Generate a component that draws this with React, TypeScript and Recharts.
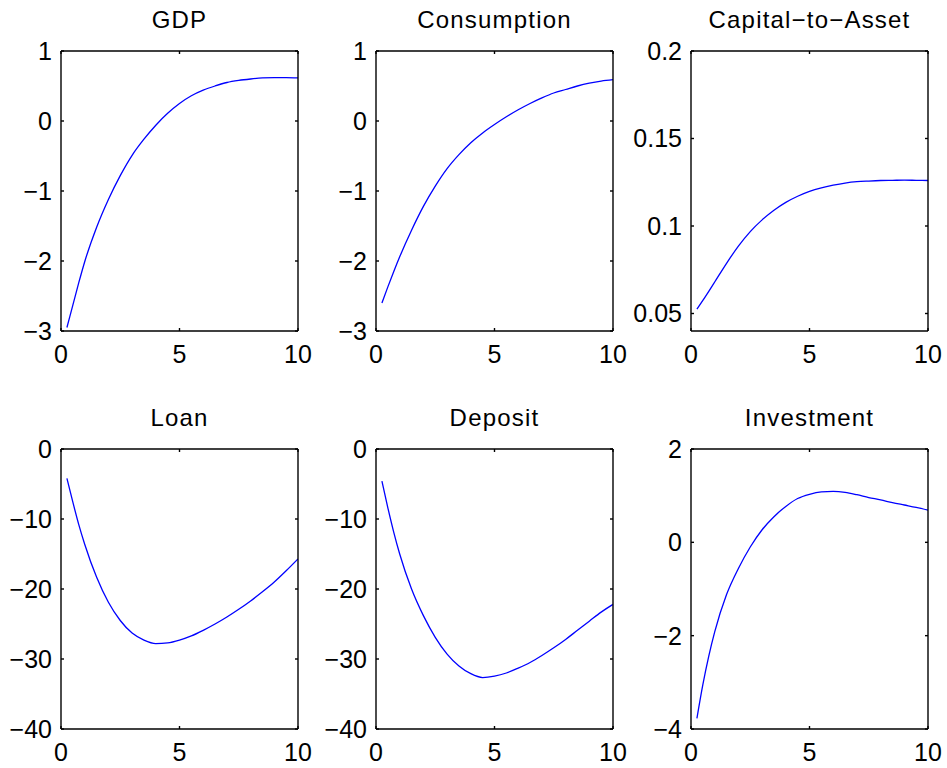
import { LineChart, Line, XAxis, YAxis } from 'recharts';

// horizon in years (quarterly steps early on, then half-years)
const horizon = [0.25, 0.5, 0.75, 1, 1.5, 2, 2.5, 3, 3.5, 4, 4.5, 5, 5.5, 6, 6.5, 7, 7.5, 8, 8.5, 9, 9.5, 10];

const gdp = [-2.95, -2.63, -2.31, -2.01, -1.52, -1.12, -0.78, -0.49, -0.26, -0.06, 0.11, 0.25, 0.36, 0.44, 0.5, 0.55, 0.58, 0.6, 0.615, 0.62, 0.62, 0.615];
const consumption = [-2.6, -2.37, -2.15, -1.94, -1.56, -1.22, -0.93, -0.68, -0.48, -0.31, -0.17, -0.05, 0.06, 0.16, 0.25, 0.33, 0.4, 0.45, 0.5, 0.54, 0.57, 0.59];
const capitalToAsset = [0.0525, 0.0575, 0.0627, 0.068, 0.0787, 0.0885, 0.0968, 0.1035, 0.109, 0.1135, 0.117, 0.1198, 0.1218, 0.1233, 0.1245, 0.1253, 0.1257, 0.126, 0.1261, 0.1262, 0.1261, 0.126];
const loan = [-4.2, -7.6, -10.8, -13.6, -18.3, -21.9, -24.5, -26.3, -27.3, -27.8, -27.7, -27.3, -26.7, -25.9, -25.0, -24.0, -22.9, -21.7, -20.4, -19.0, -17.4, -15.7];
const deposit = [-4.6, -8.4, -11.9, -15.0, -20.0, -23.8, -26.9, -29.3, -31.0, -32.1, -32.65, -32.45, -32.0, -31.3, -30.5, -29.5, -28.4, -27.2, -25.9, -24.6, -23.3, -22.2];
const investment = [-3.77, -3.05, -2.44, -1.92, -1.12, -0.56, -0.1, 0.27, 0.55, 0.77, 0.94, 1.03, 1.08, 1.09, 1.07, 1.02, 0.96, 0.91, 0.85, 0.8, 0.75, 0.69];

const xTicks = [0, 5, 10];
const unitTicks = [-3, -2, -1, 0, 1];
const ratioTicks = [0.05, 0.1, 0.15, 0.2];
const creditTicks = [-40, -30, -20, -10, 0];
const investTicks = [-4, -2, 0, 2];

const FONT = '"Liberation Sans", Arial, Helvetica, sans-serif';
const BOX_W = 237;
const BOX_H = 280;
const LW = 70;
const BH = 40;
const PADT = 20;
const PADR = 30;

const fmt = (v: number) => String(v).replace('-', '\u2212');
const blank = () => '';

function Panel({ title, values, domain, ticks, left, top }: any) {
  const data = horizon.map((x, i) => ({ x, y: values[i] }));
  const tickStyle = { fill: '#000', fontSize: 25, fontFamily: FONT };
  return (
    <div style={{ position: 'absolute', left: left - LW, top: top - PADT }}>
      <div
        style={{
          position: 'absolute', left: LW, top: PADT - 22.7 - 20.3, width: BOX_W,
          textAlign: 'center', fontFamily: FONT, fontSize: 24, letterSpacing: 1.2, lineHeight: 1, color: '#000', whiteSpace: 'nowrap',
        }}
      >
        {title}
      </div>
      <LineChart width={LW + BOX_W + PADR} height={PADT + BOX_H + BH} data={data}
        margin={{ top: PADT - 1, right: PADR - 1, bottom: 0, left: 0 }}>
        <XAxis xAxisId="b" dataKey="x" type="number" domain={[0, 10]} ticks={xTicks} interval={0} orientation="bottom" height={BH}
          tickSize={-3} tickMargin={17} tick={tickStyle} tickFormatter={fmt} stroke="#000" strokeWidth={1.4} allowDataOverflow />
        <XAxis xAxisId="t" dataKey="x" type="number" domain={[0, 10]} ticks={xTicks} interval={0} orientation="top" height={1}
          tickSize={-3} tickFormatter={blank} stroke="#000" strokeWidth={1.4} allowDataOverflow />
        <YAxis yAxisId="l" type="number" domain={domain} ticks={ticks} interval={0} orientation="left" width={LW}
          tickSize={-3} tickMargin={12} tick={tickStyle} tickFormatter={fmt} stroke="#000" strokeWidth={1.4} allowDataOverflow />
        <YAxis yAxisId="r" type="number" domain={domain} ticks={ticks} interval={0} orientation="right" width={1}
          tickSize={-3} tickFormatter={blank} stroke="#000" strokeWidth={1.4} allowDataOverflow />
        <Line xAxisId="b" yAxisId="l" dataKey="y" type="monotone" stroke="#0000ff" strokeWidth={1.3} dot={false} isAnimationActive={false} />
        <Line xAxisId="t" yAxisId="r" dataKey="y" type="monotone" stroke="none" dot={false} activeDot={false} isAnimationActive={false} legendType="none" />
      </LineChart>
    </div>
  );
}

export default function App() {
  return (
    <div style={{ position: 'absolute', left: 0, top: 0, width: 947, height: 768, background: '#fff', overflow: 'hidden' }}>
      <Panel title="GDP" values={gdp} domain={[-3, 1]} ticks={unitTicks} left={61} top={51} />
      <Panel title="Consumption" values={consumption} domain={[-3, 1]} ticks={unitTicks} left={376} top={51} />
      <Panel title={'Capital\u2212to\u2212Asset'} values={capitalToAsset} domain={[0.04, 0.2]} ticks={ratioTicks} left={691} top={51} />
      <Panel title="Loan" values={loan} domain={[-40, 0]} ticks={creditTicks} left={61} top={449} />
      <Panel title="Deposit" values={deposit} domain={[-40, 0]} ticks={creditTicks} left={376} top={449} />
      <Panel title="Investment" values={investment} domain={[-4, 2]} ticks={investTicks} left={691} top={449} />
    </div>
  );
}
